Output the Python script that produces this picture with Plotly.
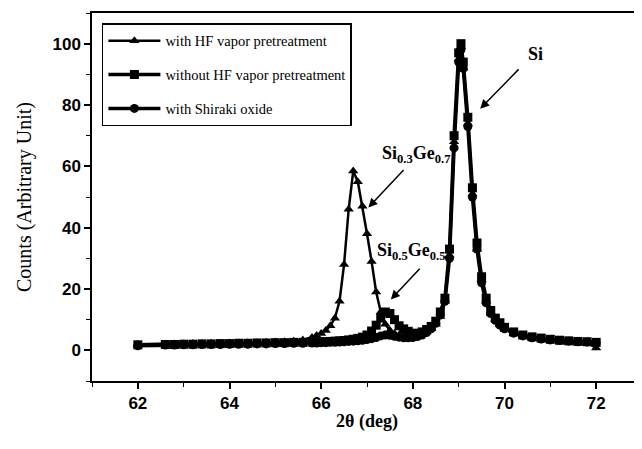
import plotly.graph_objects as go

# ---- data ----
two_theta = [62.0, 62.6, 62.8, 63.0, 63.2, 63.4, 63.6, 63.8, 64.0, 64.2, 64.4, 64.6, 64.8,
             65.0, 65.2, 65.4, 65.6, 65.8, 65.9, 66.0, 66.1, 66.2, 66.3, 66.4, 66.5, 66.6,
             66.7, 66.8, 66.9, 67.0, 67.1, 67.2, 67.3, 67.4, 67.5, 67.6, 67.7, 67.8, 67.9,
             68.0, 68.1, 68.2, 68.3, 68.4, 68.5, 68.6, 68.7, 68.8, 68.9, 69.0, 69.05, 69.1,
             69.2, 69.3, 69.4, 69.5, 69.6, 69.7, 69.8, 69.9, 70.0, 70.2, 70.4, 70.6, 70.8,
             71.0, 71.2, 71.4, 71.6, 71.8, 72.0]

with_hf = [2.0, 2.0, 2.1, 2.1, 2.2, 2.2, 2.3, 2.3, 2.4, 2.4, 2.5, 2.5, 2.6,
           2.7, 2.8, 3.0, 3.4, 4.2, 4.8, 5.5, 6.5, 8.0, 10.5, 16.0, 28.0, 46.0,
           58.5, 55.0, 47.0, 38.0, 29.0, 19.0, 12.5, 8.5, 6.5, 5.5, 5.0, 4.6, 4.4,
           4.5, 4.8, 5.3, 6.0, 7.0, 8.5, 11.0, 16.0, 31.0, 68.0, 95.0, 99.0, 92.0,
           74.0, 51.0, 33.0, 23.0, 16.0, 12.0, 10.0, 8.5, 7.0, 5.5, 4.6, 4.0, 3.6,
           3.3, 3.1, 2.9, 2.7, 2.5, 0.8]

without_hf = [1.8, 1.9, 1.9, 2.0, 2.0, 2.1, 2.1, 2.2, 2.2, 2.3, 2.3, 2.4, 2.4,
              2.5, 2.5, 2.6, 2.6, 2.7, 2.7, 2.8, 2.8, 2.9, 3.0, 3.1, 3.2, 3.4,
              3.6, 3.9, 4.3, 5.0, 6.3, 8.2, 10.5, 12.5, 12.0, 10.0, 8.0, 7.0, 6.2,
              5.6, 5.5, 6.0, 6.8, 7.8, 9.5, 12.5, 17.0, 33.0, 70.0, 97.0, 100.0, 94.0,
              76.0, 53.0, 35.0, 24.0, 17.0, 13.0, 10.5, 9.0, 7.5, 6.0, 5.0, 4.4, 4.0,
              3.6, 3.3, 3.1, 2.9, 2.8, 2.6]

shiraki = [1.5, 1.7, 1.7, 1.8, 1.8, 1.9, 1.9, 1.9, 2.0, 2.0, 2.0, 2.1, 2.1,
           2.2, 2.2, 2.3, 2.3, 2.4, 2.4, 2.5, 2.5, 2.6, 2.6, 2.7, 2.8, 2.9,
           3.0, 3.1, 3.3, 3.5, 3.8, 4.2, 4.7, 5.0, 4.9, 4.6, 4.3, 4.1, 4.1,
           4.2, 4.5, 5.0, 5.8, 7.0, 8.8, 11.5, 16.0, 30.0, 66.0, 94.0, 98.0, 92.0,
           73.0, 50.0, 33.0, 22.0, 15.5, 12.0, 9.8, 8.2, 7.0, 5.6, 4.7, 4.1, 3.7,
           3.4, 3.2, 3.0, 2.8, 2.7, 2.5]

series_names = ["with HF vapor pretreatment", "without HF vapor pretreatment", "with Shiraki oxide"]
series_values = [with_hf, without_hf, shiraki]
series_symbols = ["triangle-up", "square", "circle"]
series_sizes = [9, 9, 9]
series_widths = [2.5, 3.5, 3.5]

x_ticks = [62, 64, 66, 68, 70, 72]
y_ticks = [0, 20, 40, 60, 80, 100]

serif = "Liberation Serif"
sans = "Liberation Sans"

fig = go.Figure()
for i, (name, vals, sym, sz, lw) in enumerate(zip(series_names, series_values, series_symbols,
                                                  series_sizes, series_widths)):
    fig.add_trace(go.Scatter(
        x=two_theta, y=vals, name=name, mode="lines+markers",
        line=dict(color="black", width=lw),
        marker=dict(symbol=sym, size=sz, color="black"),
        legendgroup=f"g{i}",
    ))

# annotations with arrows
annots = [
    dict(text="<b>Si</b>", x=70.67, y=96.5, tail=(70.34, 92.1), head=(69.47, 78.8)),
    dict(text="<b>Si<sub>0.3</sub>Ge<sub>0.7</sub></b>", x=68.07, y=63.7, tail=(67.83, 59.3), head=(67.03, 46.6)),
    dict(text="<b>Si<sub>0.5</sub>Ge<sub>0.5</sub></b>", x=67.97, y=32.3, tail=(68.18, 27.1), head=(67.52, 16.6)),
]
for a in annots:
    fig.add_annotation(x=a["x"], y=a["y"], text=a["text"], showarrow=False,
                       font=dict(family=serif, size=18, color="black"))
    fig.add_annotation(x=a["head"][0], y=a["head"][1], ax=a["tail"][0], ay=a["tail"][1],
                       axref="x", ayref="y", xref="x", yref="y", text="",
                       showarrow=True, arrowhead=2, arrowsize=1.2, arrowwidth=1.5,
                       arrowcolor="black")

# the page body has an 8 px margin, so the figure is shrunk by that much
fig.update_layout(
    width=634, height=441,
    margin=dict(l=84, r=0, t=5, b=68),
    paper_bgcolor="white", plot_bgcolor="white",
    showlegend=True,
    legend=dict(x=0.018, y=0.972, xanchor="left", yanchor="top",
                bordercolor="black", borderwidth=1.5, bgcolor="white",
                font=dict(family=serif, size=14.5, color="black"),
                traceorder="grouped", tracegroupgap=12,
                itemwidth=52),
    xaxis=dict(range=[61, 73], tickvals=x_ticks, showgrid=False, zeroline=False, automargin=False,
               showline=True, linecolor="black", linewidth=1.5, mirror=True,
               ticks="outside", ticklen=6, tickwidth=1.5, tickcolor="black",
               minor=dict(dtick=1, tick0=61, ticks="outside", ticklen=4, tickwidth=1.2, tickcolor="black"),
               tickfont=dict(family=sans, size=17, color="black", weight="bold"),
               title=dict(text="2θ (deg)", font=dict(family=serif, size=18, color="black", weight="bold"),
                          standoff=2)),
    yaxis=dict(range=[-10, 110], tickvals=y_ticks, showgrid=False, zeroline=False, automargin=False,
               showline=True, linecolor="black", linewidth=1.5,
               ticks="outside", ticklen=6, tickwidth=1.5, tickcolor="black",
               minor=dict(dtick=20, tick0=10, ticks="outside", ticklen=4, tickwidth=1.2, tickcolor="black"),
               tickfont=dict(family=sans, size=17, color="black", weight="bold"),
               title=dict(text="Counts (Arbitrary Unit)", font=dict(family=serif, size=20, color="black"),
                          standoff=15)),
)

fig.write_html("out.html")
